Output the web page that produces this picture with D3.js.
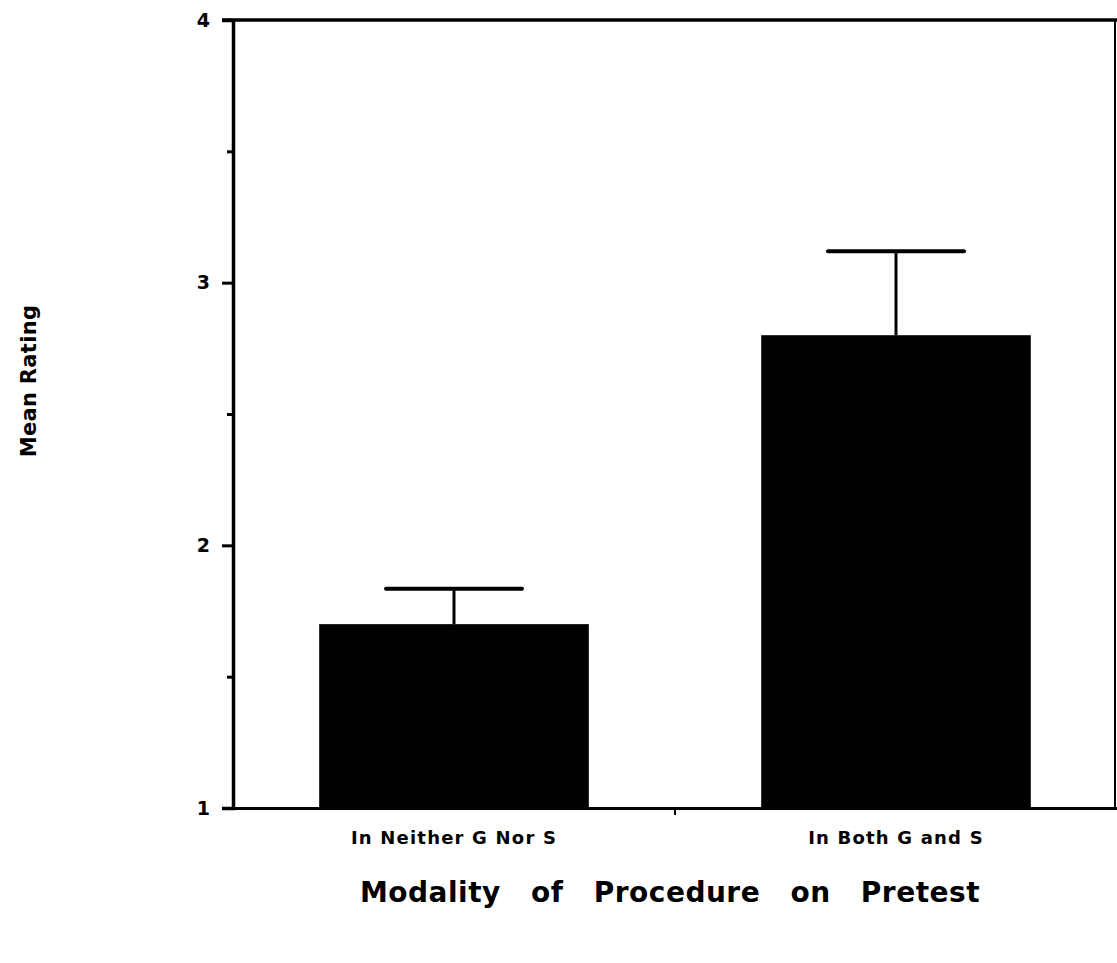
<!DOCTYPE html>
<html>
<head>
<meta charset="utf-8">
<script src="https://cdn.jsdelivr.net/npm/d3@7"></script>
<style>
  body { margin: 0; background: #fff; }
  text { font-family: "DejaVu Sans", sans-serif; font-weight: bold; fill: #000; }
</style>
</head>
<body>
<svg id="chart" width="1117" height="963"></svg>
<script>
// values
var categories = ['In Neither G Nor S', 'In Both G and S'];
var means = [1.70, 2.80];
var errors = [0.135, 0.32];
var majorTicks = [1, 2, 3, 4];
var minorTicks = [1.5, 2.5, 3.5];

var margin = {left: 233, top: 20, right: 1115, bottom: 808};
var svg = d3.select('#chart');

var x = d3.scaleBand()
    .domain(categories)
    .range([margin.left, 1117])
    .paddingInner(0)
    .paddingOuter(0);

var y = d3.scaleLinear()
    .domain([1, 4])
    .range([margin.bottom, margin.top]);

var barW = x.bandwidth() * 0.61;

// bars
svg.selectAll('rect.bar')
    .data(categories)
    .enter()
    .append('rect')
    .attr('class', 'bar')
    .attr('x', function(d) { return x(d) + x.bandwidth() / 2 - barW / 2; })
    .attr('y', function(d, i) { return y(means[i]); })
    .attr('width', barW)
    .attr('height', function(d, i) { return y(1) - y(means[i]); })
    .style('fill', '#000');

// error bars (upper only)
var eb = svg.selectAll('g.err')
    .data(categories)
    .enter()
    .append('g')
    .attr('class', 'err');
eb.append('line')
    .attr('x1', function(d) { return x(d) + x.bandwidth() / 2; })
    .attr('x2', function(d) { return x(d) + x.bandwidth() / 2; })
    .attr('y1', function(d, i) { return y(means[i]); })
    .attr('y2', function(d, i) { return y(means[i] + errors[i]); })
    .style('stroke', '#000').style('stroke-width', 3);
eb.append('line')
    .attr('x1', function(d) { return x(d) + x.bandwidth() / 2 - 68; })
    .attr('x2', function(d) { return x(d) + x.bandwidth() / 2 + 68; })
    .attr('y1', function(d, i) { return y(means[i] + errors[i]); })
    .attr('y2', function(d, i) { return y(means[i] + errors[i]); })
    .style('stroke', '#000').style('stroke-width', 4)
    .style('stroke-linecap', 'round');

// frame: top and right
svg.append('line')
    .attr('x1', margin.left - 11).attr('x2', 1117)
    .attr('y1', y(4)).attr('y2', y(4))
    .style('stroke', '#000').style('stroke-width', 3.5);
svg.append('line')
    .attr('x1', margin.right).attr('x2', margin.right)
    .attr('y1', y(4)).attr('y2', y(1))
    .style('stroke', '#000').style('stroke-width', 2);

// y axis
var yAxis = svg.append('g')
    .attr('transform', 'translate(' + margin.left + ',0)')
    .call(d3.axisLeft(y).tickValues(majorTicks).tickFormat(d3.format('d')).tickSize(11).tickPadding(12));
yAxis.select('.domain').style('stroke-width', 3.5);
yAxis.selectAll('.tick line').style('stroke-width', 3);
yAxis.selectAll('.tick text').style('font-size', '19px');

var yMinor = svg.append('g')
    .attr('transform', 'translate(' + margin.left + ',0)')
    .call(d3.axisLeft(y).tickValues(minorTicks).tickFormat('').tickSize(6));
yMinor.select('.domain').remove();
yMinor.selectAll('.tick line').style('stroke-width', 3);

// x axis
var xAxis = svg.append('g')
    .attr('transform', 'translate(0,' + margin.bottom + ')')
    .call(d3.axisBottom(x).tickSize(0).tickSizeOuter(0).tickPadding(23));
xAxis.select('.domain').style('stroke-width', 3);
xAxis.selectAll('.tick text')
    .style('font-size', '18px')
    .style('letter-spacing', '1.2px');

// category divider tick
svg.append('line')
    .attr('x1', x(categories[1])).attr('x2', x(categories[1]))
    .attr('y1', margin.bottom).attr('y2', margin.bottom + 7)
    .style('stroke', '#000').style('stroke-width', 2);

// axis titles
svg.append('text')
    .attr('transform', 'translate(36,381) rotate(-90)')
    .attr('text-anchor', 'middle')
    .style('font-size', '21px')
    .style('letter-spacing', '0.3px')
    .text('Mean Rating');

svg.append('text')
    .attr('x', 670).attr('y', 902)
    .attr('text-anchor', 'middle')
    .style('font-size', '28px')
    .style('letter-spacing', '0.5px')
    .style('word-spacing', '20px')
    .text('Modality of Procedure on Pretest');
</script>
</body>
</html>
